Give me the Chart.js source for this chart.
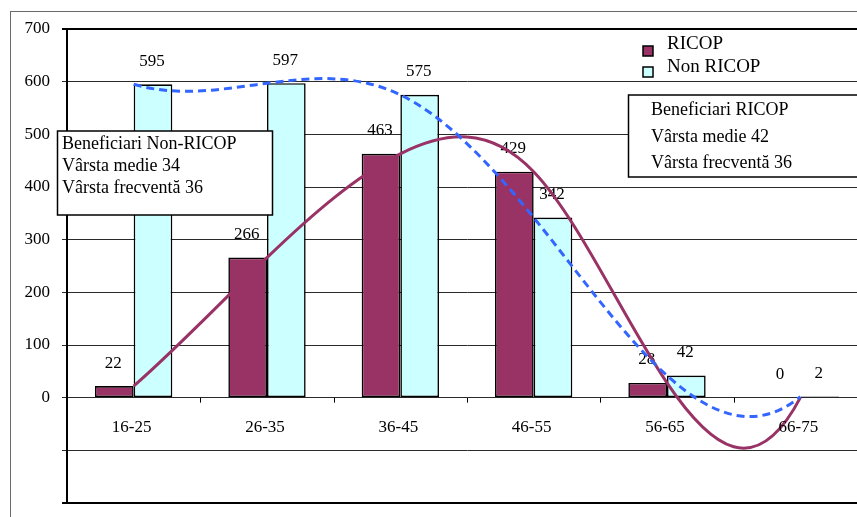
<!DOCTYPE html>
<html>
<head>
<meta charset="utf-8">
<script src="https://cdn.jsdelivr.net/npm/chart.js@4/dist/chart.umd.min.js"></script>
<style>
  html, body { margin: 0; padding: 0; overflow: hidden; background: #fff; }
  #wrap { width: 880px; height: 517px; }
</style>
</head>
<body>
<div id="wrap"><canvas id="chart" width="880" height="517"></canvas></div>
<script>
// Age groups and number of beneficiaries per group
const categories = ['16-25', '26-35', '36-45', '46-55', '56-65', '66-75'];
const ricop = [22, 266, 463, 429, 28, 0];
const nonRicop = [595, 597, 575, 342, 42, 2];
const yTickLabels = [0, 100, 200, 300, 400, 500, 600, 700];
const seriesNames = ['RICOP', 'Non RICOP'];

// Summary notes
const nonRicopNote = ['Beneficiari Non-RICOP', 'Vârsta medie 34', 'Vârsta frecventă 36'];
const ricopNote = ['Beneficiari RICOP', 'Vârsta medie 42', 'Vârsta frecventă 36'];

const MAROON = '#993366';
const CYAN = '#CCFFFF';
const BLUE = '#3366FF';
const SERIF = "'Liberation Serif', 'Times New Roman', serif";

Chart.defaults.font.family = SERIF;
Chart.defaults.color = '#000';

// Solve a small dense linear system (Gaussian elimination, partial pivoting)
function solve(A, b) {
  const n = b.length;
  for (let c = 0; c < n; c++) {
    let p = c;
    for (let r = c + 1; r < n; r++) if (Math.abs(A[r][c]) > Math.abs(A[p][c])) p = r;
    [A[c], A[p]] = [A[p], A[c]];
    [b[c], b[p]] = [b[p], b[c]];
    for (let r = c + 1; r < n; r++) {
      const f = A[r][c] / A[c][c];
      for (let k = c; k < n; k++) A[r][k] -= f * A[c][k];
      b[r] -= f * b[c];
    }
  }
  const x = new Array(n).fill(0);
  for (let r = n - 1; r >= 0; r--) {
    let s = b[r];
    for (let k = r + 1; k < n; k++) s -= A[r][k] * x[k];
    x[r] = s / A[r][r];
  }
  return x;
}

// Slopes of a "not-a-knot" cubic spline through equally spaced points
function splineSlopes(xs, ys) {
  const n = xs.length;
  const h = xs[1] - xs[0];
  const A = Array.from({ length: n }, () => new Array(n).fill(0));
  const b = new Array(n).fill(0);
  A[0][0] = 1; A[0][1] = -2; A[0][2] = 1;
  for (let i = 1; i < n - 1; i++) {
    A[i][i - 1] = 1; A[i][i] = 4; A[i][i + 1] = 1;
    b[i] = 6 * (ys[i + 1] - 2 * ys[i] + ys[i - 1]) / (h * h);
  }
  A[n - 1][n - 3] = 1; A[n - 1][n - 2] = -2; A[n - 1][n - 1] = 1;
  const M = solve(A, b);
  const m = [];
  for (let i = 0; i < n - 1; i++) m.push((ys[i + 1] - ys[i]) / h - h * (2 * M[i] + M[i + 1]) / 6);
  m.push((ys[n - 1] - ys[n - 2]) / h + h * (M[n - 2] + 2 * M[n - 1]) / 6);
  return { m, h };
}

// Replace the line's bezier control points with the spline's
const splinePlugin = {
  id: 'splineLines',
  beforeDatasetDraw(chart, args) {
    const meta = args.meta;
    if (meta.type !== 'line') return;
    const pts = meta.data;
    if (pts.length < 4) return;
    const { m, h } = splineSlopes(pts.map(p => p.x), pts.map(p => p.y));
    pts.forEach((p, i) => {
      p.cp1x = p.x - h / 3; p.cp1y = p.y - m[i] * h / 3;
      p.cp2x = p.x + h / 3; p.cp2y = p.y + m[i] * h / 3;
    });
    meta.dataset._pointsUpdated = true;
    meta.dataset._path = undefined;
  }
};

// Value labels above the bars
const barLabels = {
  id: 'barLabels',
  afterDatasetDraw(chart, args) {
    const meta = args.meta;
    if (meta.type !== 'bar') return;
    const ctx = chart.ctx;
    const data = chart.data.datasets[meta.index].data;
    ctx.save();
    ctx.font = '17px ' + SERIF;
    ctx.fillStyle = '#000';
    ctx.textAlign = 'center';
    ctx.textBaseline = 'alphabetic';
    meta.data.forEach((bar, i) => {
      ctx.fillText(String(data[i]), bar.x - 1, bar.y - 18.5);
    });
    ctx.restore();
  }
};

// Category labels and ticks along the zero line
const zeroAxis = {
  id: 'zeroAxis',
  afterDatasetsDraw(chart) {
    const ctx = chart.ctx;
    const xs = chart.scales.x, ys = chart.scales.y;
    const y0 = ys.getPixelForValue(0);
    ctx.save();
    ctx.strokeStyle = '#000';
    ctx.lineWidth = 1;
    ctx.beginPath();
    for (let i = 0; i < categories.length - 1; i++) {
      const bx = Math.round((xs.getPixelForValue(i) + xs.getPixelForValue(i + 1)) / 2) + 0.5;
      ctx.moveTo(bx, y0);
      ctx.lineTo(bx, y0 + 5);
    }
    ctx.stroke();
    ctx.font = '17px ' + SERIF;
    ctx.fillStyle = '#000';
    ctx.textAlign = 'center';
    ctx.textBaseline = 'alphabetic';
    categories.forEach((c, i) => ctx.fillText(c, xs.getPixelForValue(i) - 2, y0 + 34));
    ctx.restore();
  }
};

// Outer frame, legend and note boxes
const decorations = {
  id: 'decorations',
  beforeDraw(chart) {
    const ctx = chart.ctx;
    ctx.save();
    ctx.strokeStyle = '#6a6a6a';
    ctx.lineWidth = 1;
    ctx.strokeRect(10.5, 11.5, 1000, 1000);
    ctx.restore();
  },
  afterDraw(chart) {
    const ctx = chart.ctx;
    ctx.save();
    const note = (lines, x, y, w, h, tx, firstBase, step) => {
      ctx.fillStyle = '#fff';
      ctx.fillRect(x, y, w, h);
      ctx.strokeStyle = '#000';
      ctx.lineWidth = 1.5;
      ctx.strokeRect(x, y, w, h);
      ctx.fillStyle = '#000';
      ctx.font = '18px ' + SERIF;
      ctx.textAlign = 'left';
      ctx.textBaseline = 'alphabetic';
      lines.forEach((t, i) => ctx.fillText(t, tx, firstBase + i * step));
    };
    note(nonRicopNote, 57.5, 131, 215, 84, 62, 149, 22.2);
    note(ricopNote, 628.5, 95, 300, 82, 651, 115, 26.5);

    // legend
    const fills = [MAROON, CYAN];
    ctx.font = '19px ' + SERIF;
    seriesNames.forEach((name, i) => {
      const top = 46 + i * 21;
      ctx.fillStyle = fills[i];
      ctx.fillRect(643, top, 10, 10);
      ctx.strokeStyle = '#000';
      ctx.lineWidth = 1.5;
      ctx.strokeRect(643, top, 10, 10);
      ctx.fillStyle = '#000';
      ctx.fillText(name, 667, 49 + i * 22.5);
    });
    ctx.restore();
  }
};

new Chart(document.getElementById('chart'), {
  data: {
    labels: categories,
    datasets: [
      {
        type: 'line', label: seriesNames[1], data: nonRicop,
        borderColor: BLUE, borderWidth: 3, borderDash: [8, 5],
        pointRadius: 0, tension: 0.4, fill: false, order: 0
      },
      {
        type: 'line', label: seriesNames[0], data: ricop,
        borderColor: MAROON, borderWidth: 3,
        pointRadius: 0, tension: 0.4, fill: false, order: 0
      },
      {
        type: 'bar', label: seriesNames[0], data: ricop,
        backgroundColor: MAROON, borderColor: '#000', borderWidth: 1.6,
        borderSkipped: false,
        categoryPercentage: 0.58, barPercentage: 1, order: 1
      },
      {
        type: 'bar', label: seriesNames[1], data: nonRicop,
        backgroundColor: CYAN, borderColor: '#000', borderWidth: 1.6,
        borderSkipped: false,
        categoryPercentage: 0.58, barPercentage: 1, order: 1
      }
    ]
  },
  options: {
    responsive: false,
    animation: false,
    events: [],
    layout: { padding: { left: 0, right: 13, top: 29, bottom: 14 } },
    plugins: { legend: { display: false }, tooltip: { enabled: false } },
    scales: {
      x: { display: false },
      y: {
        min: -200, max: 700,
        afterFit: s => { s.width = 67; s.paddingTop = 0; s.paddingBottom = 0; },
        ticks: {
          stepSize: 100,
          padding: 12,
          font: { size: 17, family: SERIF },
          color: '#000',
          callback: v => (yTickLabels.includes(v) ? String(v) : '')
        },
        grid: {
          tickLength: 5,
          color: c => (c.tick && (c.tick.value === 700 || c.tick.value === -200) ? '#000' : '#2a2a2a'),
          lineWidth: c => (c.tick && (c.tick.value === 700 || c.tick.value === -200) ? 2 : 1)
        },
        border: { display: true, color: '#000', width: 2 }
      }
    }
  },
  plugins: [splinePlugin, barLabels, zeroAxis, decorations]
});
</script>
</body>
</html>
